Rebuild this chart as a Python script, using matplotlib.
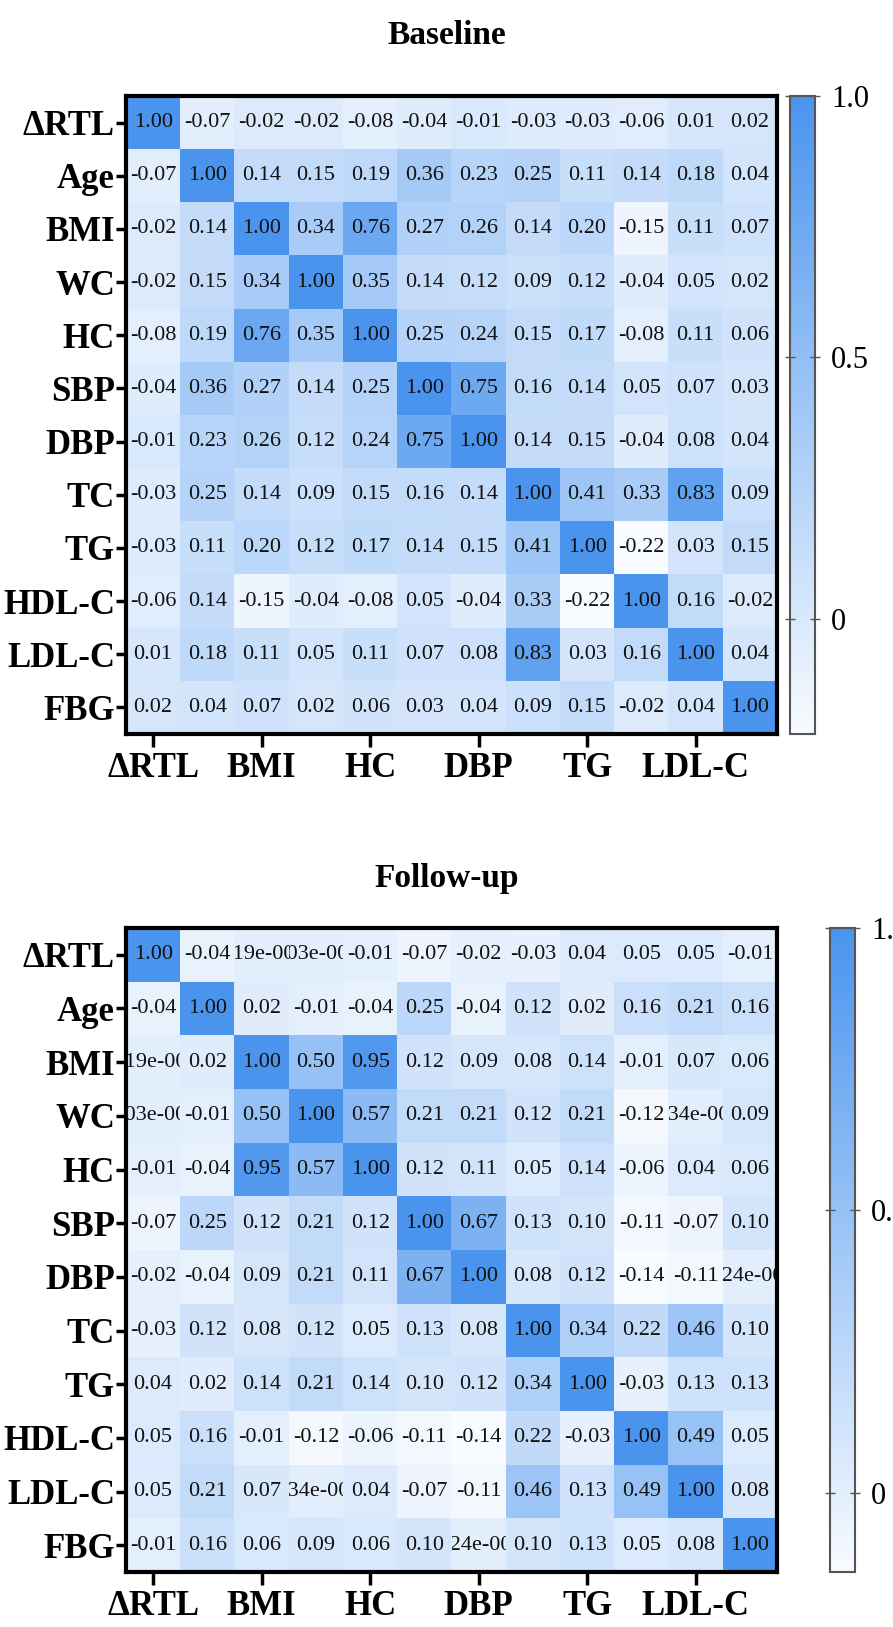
import numpy as np
import matplotlib
matplotlib.use("Agg")
import matplotlib.pyplot as plt
from matplotlib.colors import LinearSegmentedColormap, Normalize
from matplotlib.patches import Rectangle

plt.rcParams["font.family"] = ["Liberation Serif", "DejaVu Serif"]

variables = ["ΔRTL", "Age", "BMI", "WC", "HC", "SBP", "DBP", "TC", "TG", "HDL-C", "LDL-C", "FBG"]
xtick_idx = [0, 2, 4, 6, 8, 10]

baseline = [
    [1.00, -0.07, -0.02, -0.02, -0.08, -0.04, -0.01, -0.03, -0.03, -0.06, 0.01, 0.02],
    [-0.07, 1.00, 0.14, 0.15, 0.19, 0.36, 0.23, 0.25, 0.11, 0.14, 0.18, 0.04],
    [-0.02, 0.14, 1.00, 0.34, 0.76, 0.27, 0.26, 0.14, 0.20, -0.15, 0.11, 0.07],
    [-0.02, 0.15, 0.34, 1.00, 0.35, 0.14, 0.12, 0.09, 0.12, -0.04, 0.05, 0.02],
    [-0.08, 0.19, 0.76, 0.35, 1.00, 0.25, 0.24, 0.15, 0.17, -0.08, 0.11, 0.06],
    [-0.04, 0.36, 0.27, 0.14, 0.25, 1.00, 0.75, 0.16, 0.14, 0.05, 0.07, 0.03],
    [-0.01, 0.23, 0.26, 0.12, 0.24, 0.75, 1.00, 0.14, 0.15, -0.04, 0.08, 0.04],
    [-0.03, 0.25, 0.14, 0.09, 0.15, 0.16, 0.14, 1.00, 0.41, 0.33, 0.83, 0.09],
    [-0.03, 0.11, 0.20, 0.12, 0.17, 0.14, 0.15, 0.41, 1.00, -0.22, 0.03, 0.15],
    [-0.06, 0.14, -0.15, -0.04, -0.08, 0.05, -0.04, 0.33, -0.22, 1.00, 0.16, -0.02],
    [0.01, 0.18, 0.11, 0.05, 0.11, 0.07, 0.08, 0.83, 0.03, 0.16, 1.00, 0.04],
    [0.02, 0.04, 0.07, 0.02, 0.06, 0.03, 0.04, 0.09, 0.15, -0.02, 0.04, 1.00],
]

followup = [
    [1.00, -0.04, 0.00419, 0.00303, -0.01, -0.07, -0.02, -0.03, 0.04, 0.05, 0.05, -0.01],
    [-0.04, 1.00, 0.02, -0.01, -0.04, 0.25, -0.04, 0.12, 0.02, 0.16, 0.21, 0.16],
    [0.00419, 0.02, 1.00, 0.50, 0.95, 0.12, 0.09, 0.08, 0.14, -0.01, 0.07, 0.06],
    [0.00303, -0.01, 0.50, 1.00, 0.57, 0.21, 0.21, 0.12, 0.21, -0.12, 0.00234, 0.09],
    [-0.01, -0.04, 0.95, 0.57, 1.00, 0.12, 0.11, 0.05, 0.14, -0.06, 0.04, 0.06],
    [-0.07, 0.25, 0.12, 0.21, 0.12, 1.00, 0.67, 0.13, 0.10, -0.11, -0.07, 0.10],
    [-0.02, -0.04, 0.09, 0.21, 0.11, 0.67, 1.00, 0.08, 0.12, -0.14, -0.11, 0.00424],
    [-0.03, 0.12, 0.08, 0.12, 0.05, 0.13, 0.08, 1.00, 0.34, 0.22, 0.46, 0.10],
    [0.04, 0.02, 0.14, 0.21, 0.14, 0.10, 0.12, 0.34, 1.00, -0.03, 0.13, 0.13],
    [0.05, 0.16, -0.01, -0.12, -0.06, -0.11, -0.14, 0.22, -0.03, 1.00, 0.49, 0.05],
    [0.05, 0.21, 0.07, 0.00234, 0.04, -0.07, -0.11, 0.46, 0.13, 0.49, 1.00, 0.08],
    [-0.01, 0.16, 0.06, 0.09, 0.06, 0.10, 0.00424, 0.10, 0.13, 0.05, 0.08, 1.00],
]

cmap = LinearSegmentedColormap.from_list("wb", ["#F8FBFF", "#4A94EE"])

W, H = 893, 1627


def fmt(v):
    # tiny values show up in e-notation in the original
    if abs(v) < 0.005:
        m, e = f"{v:.2e}".split("e")
        return f"{m}e{int(e):+04d}"
    return f"{v:.2f}"


def box(l, t, r, b):
    return [l / W, 1 - b / H, (r - l) / W, (b - t) / H]


def panel(data, title, title_y, hm, cb):
    data = np.array(data)
    n = len(variables)
    ax = fig.add_axes(box(*hm))
    cax = fig.add_axes(box(*cb))
    norm = Normalize(vmin=data.min(), vmax=data.max())
    im = ax.imshow(data, cmap=cmap, norm=norm, aspect="auto", interpolation="nearest")

    for i in range(n):
        for j in range(n):
            t = ax.text(j, i, fmt(data[i, j]), ha="center", va="center",
                        fontsize=16, color="#111111", clip_on=True)
            t.set_clip_path(Rectangle((j - 0.5, i - 0.5), 1, 1, transform=ax.transData))

    ax.set_yticks(range(n))
    ax.set_yticklabels(variables, fontweight="bold", fontsize=25)
    ax.set_xticks(xtick_idx)
    ax.set_xticklabels([variables[k] for k in xtick_idx], fontweight="bold", fontsize=25)
    ax.tick_params(axis="y", length=7, width=2.5, pad=1)
    ax.tick_params(axis="x", length=9, width=2.5, pad=4)
    for s in ax.spines.values():
        s.set_linewidth(3)

    cbar = fig.colorbar(im, cax=cax)
    cbar.set_ticks([0, 0.5, 1.0])
    cbar.set_ticklabels(["0", "0.5", "1.0"])
    cax.tick_params(left=True, right=True, direction="inout", length=7, width=1,
                    color="#555555", labelsize=22, pad=8)
    cbar.outline.set_edgecolor("#555555")
    cbar.outline.set_linewidth(1.5)

    fig.text(447 / W, 1 - title_y / H, title, ha="center", va="center",
             fontsize=24, fontweight="bold")


fig = plt.figure(figsize=(W / 100, H / 100), dpi=100)
panel(baseline, "Baseline", 36, (126, 96, 777, 734), (790, 96, 815, 734))
panel(followup, "Follow-up", 878, (126, 928, 777, 1572), (830, 928, 855, 1572))

fig.savefig("out.png", dpi=100)
